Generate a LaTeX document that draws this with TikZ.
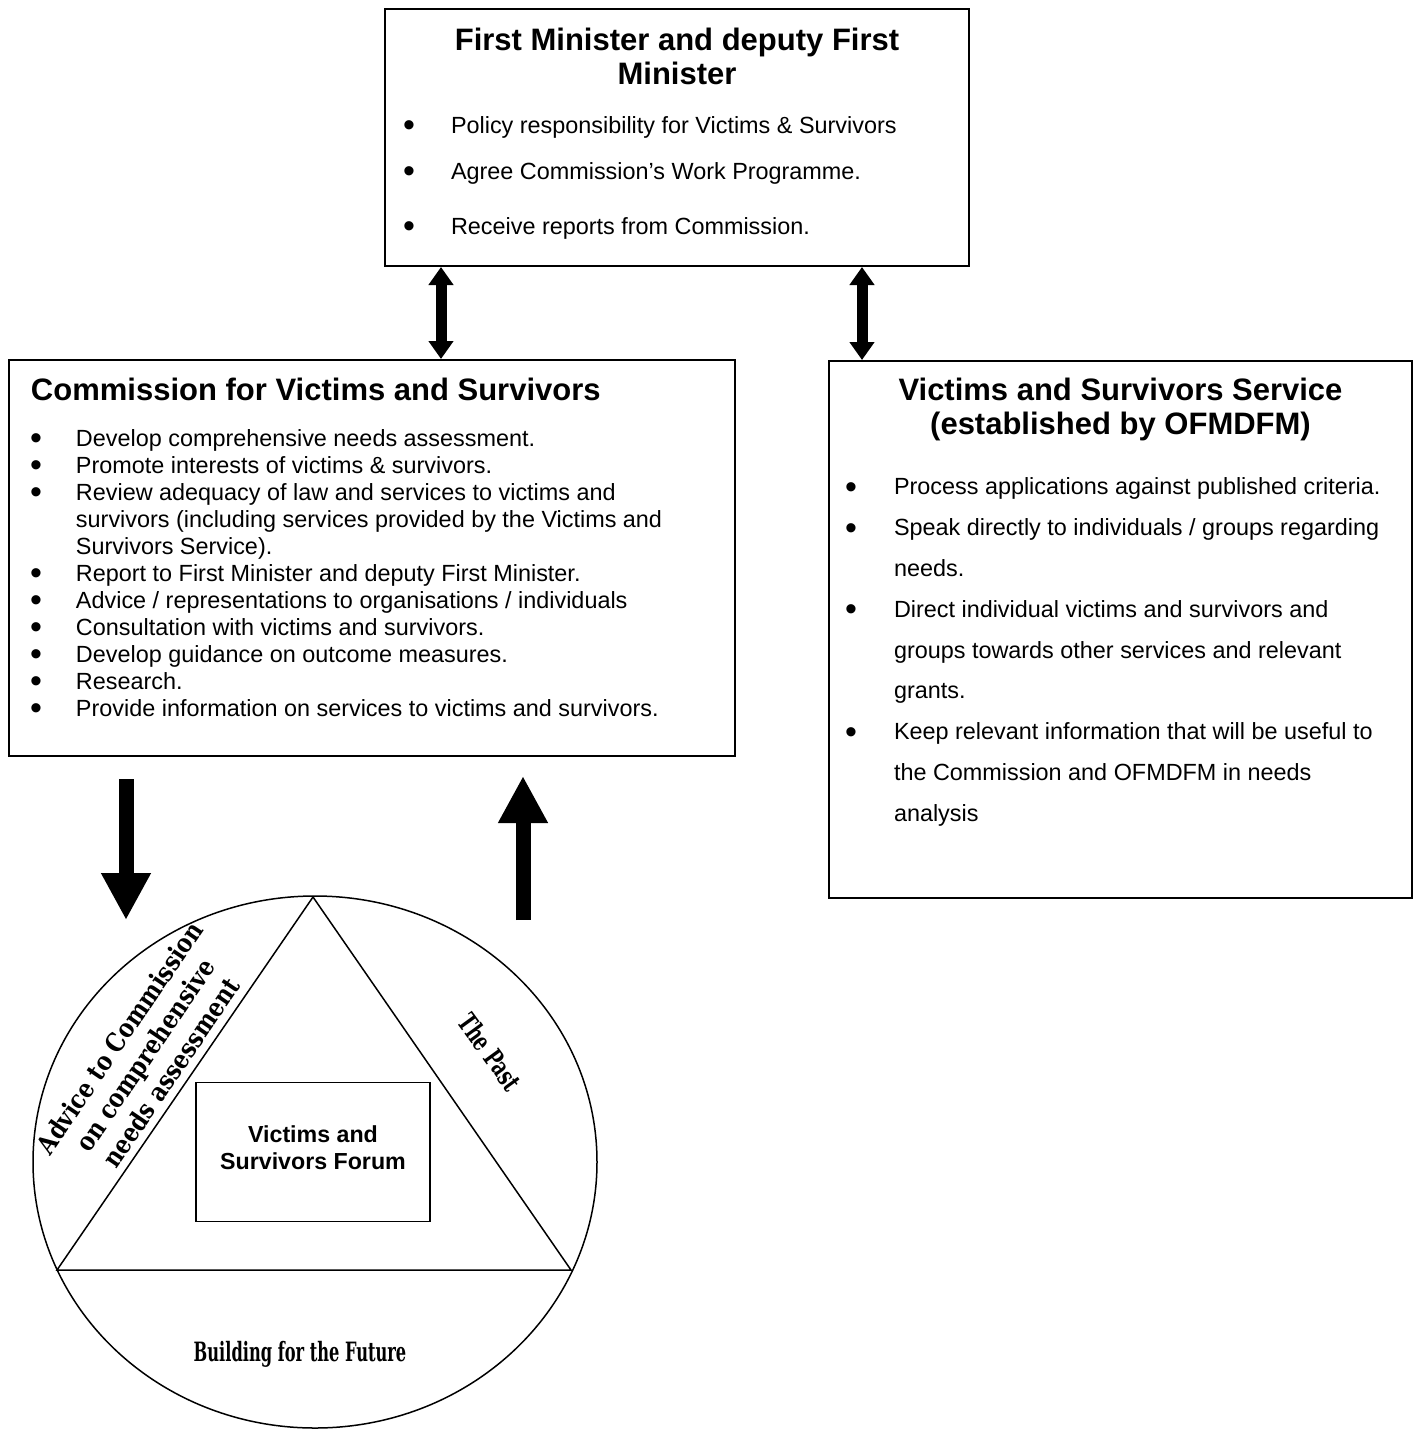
\documentclass[tikz,border=0pt]{standalone}
\usepackage{fontspec}
\setmainfont{Liberation Sans}
\newfontfamily\artwide[FakeStretch=0.85]{DejaVu Serif}
\newfontfamily\artnarrow[FakeStretch=0.61]{DejaVu Serif}
\newfontfamily\artmid[FakeStretch=0.68]{DejaVu Serif}
\usetikzlibrary{arrows.meta,positioning,calc}

\newcommand{\bpoint}[3]{\par\noindent\hangindent=#2\hangafter=1\makebox[#2][l]{\hspace*{#1}\raisebox{-1.7pt}{\scalebox{1.45}{\textbullet}}}#3}
\newcommand{\headfont}{\fontsize{15.5}{17.25}\selectfont\bfseries}

\begin{document}
\begin{tikzpicture}[x=0.5pt,y=-0.5pt,>=Latex,
  panel/.style={draw,line width=1pt,inner sep=0pt,anchor=north west},
  twoway/.style={line width=5.5pt,{Triangle[width=12pt,length=9pt]}-{Triangle[width=12pt,length=9pt]}},
  bigarrow/.style={line width=7.5pt,-{Triangle[width=23.3pt,length=23.5pt]}},
  ringline/.style={line width=0.75pt}]
\useasboundingbox (0,0) rectangle (1416,1430);

% top box
\node[panel] (minister) at (384,8) {\begin{minipage}[t][128.5pt][t]{292pt}
\centering\headfont\rule{0pt}{20.5pt}First Minister and deputy First\\Minister\par
\raggedright\normalfont\fontsize{11.7}{23}\selectfont\vspace{1.5pt}
\bpoint{9pt}{33pt}{Policy responsibility for Victims \& Survivors}
\bpoint{9pt}{33pt}{Agree Commission’s Work Programme.}\par\vspace{4.5pt}
\bpoint{9pt}{33pt}{Receive reports from Commission.}
\end{minipage}};

% commission
\node[panel] (commission) at (8,359) {\begin{minipage}[t][198pt][t]{363pt}
\raggedright\noindent\hspace*{11pt}\headfont\rule{0pt}{20pt}Commission for Victims and Survivors\par
\normalfont\fontsize{11.7}{13.5}\selectfont\vspace{9.5pt}
\bpoint{10.5pt}{33.5pt}{Develop comprehensive needs assessment.}
\bpoint{10.5pt}{33.5pt}{Promote interests of victims \& survivors.}
\bpoint{10.5pt}{33.5pt}{Review adequacy of law and services to victims and\newline survivors (including services provided by the Victims and\newline Survivors Service).}
\bpoint{10.5pt}{33.5pt}{Report to First Minister and deputy First Minister.}
\bpoint{10.5pt}{33.5pt}{Advice / representations to organisations / individuals}
\bpoint{10.5pt}{33.5pt}{Consultation with victims and survivors.}
\bpoint{10.5pt}{33.5pt}{Develop guidance on outcome measures.}
\bpoint{10.5pt}{33.5pt}{Research.}
\bpoint{10.5pt}{33.5pt}{Provide information on services to victims and survivors.}
\end{minipage}};

% service
\node[panel] (service) at (828,360) {\begin{minipage}[t][268.5pt][t]{291.5pt}
\centering\headfont\rule{0pt}{19.5pt}Victims and Survivors Service\\(established by OFMDFM)\par
\raggedright\normalfont\fontsize{11.7}{20.4}\selectfont\vspace{9.8pt}
\bpoint{8pt}{32.5pt}{Process applications against published criteria.}
\bpoint{8pt}{32.5pt}{Speak directly to individuals / groups regarding\newline needs.}
\bpoint{8pt}{32.5pt}{Direct individual victims and survivors and\newline groups towards other services and relevant\newline grants.}
\bpoint{8pt}{32.5pt}{Keep relevant information that will be useful to\newline the Commission and OFMDFM in needs\newline analysis}
\end{minipage}};

\coordinate (lx) at (441,0);
\coordinate (rx) at (862,0);
\draw[twoway] (lx |- minister.south) -- (lx |- commission.north);
\draw[twoway] (rx |- minister.south) -- (rx |- service.north);

% forum circle
\coordinate (apex) at (313,897);
\coordinate (baseL) at (57,1270);
\coordinate (baseR) at (571,1270);
\draw[ringline] (315,1162) ellipse [x radius=282,y radius=266];
\draw[ringline] (apex) -- (baseL) -- (baseR) -- cycle;
\node[draw,ringline,minimum width=117pt,minimum height=69.5pt,align=center,text depth=4pt,
  font=\fontsize{11.6}{13.5}\selectfont\bfseries] (forum) at (313,1152) {Victims and\\Survivors Forum};
\node[rotate=55.8,align=center,font=\artwide\bfseries\fontsize{13}{15.5}\selectfont] (advice) at (145,1055)
  {Advice to Commission\\on comprehensive\\needs assessment};
\node[rotate=-54,font=\artmid\bfseries\fontsize{13.3}{16}\selectfont] (past) at (490,1052) {The Past};
\node[font=\artnarrow\bfseries\fontsize{13.3}{16}\selectfont] (future) at (300,1354) {Building for the Future};

\coordinate (advicein) at (126,779);
\coordinate (adviceend) at (126,920);
\coordinate (pastout) at (523,920);
\coordinate (pastend) at (523,776);
\draw[bigarrow] (advicein) -- (adviceend);
\draw[bigarrow] (pastout) -- (pastend);
\end{tikzpicture}
\end{document}
